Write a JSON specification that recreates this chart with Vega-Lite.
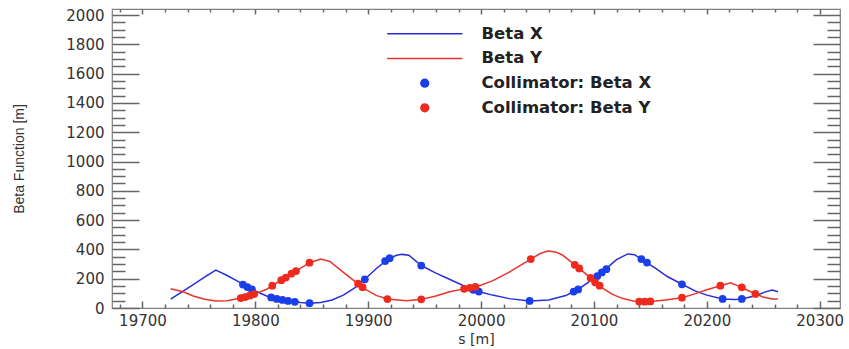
{
  "$schema": "https://vega.github.io/schema/vega-lite/v6.json",
  "width": 728,
  "height": 299,
  "autosize": {"type": "none"},
  "padding": {"left": 112, "top": 9, "right": 9, "bottom": 41},
  "background": "white",
  "config": {
    "view": {"stroke": "#808080", "strokeWidth": 1.2},
    "axis": {
      "grid": false,
      "domain": false,
      "labelFont": "DejaVu Sans",
      "labelFontSize": 15,
      "labelColor": "#333333",
      "labelFlush": false,
      "labelOverlap": false,
      "format": "d"
    }
  },
  "datasets": {
    "curves": [
      {"s": 19725, "beta": 61, "series": "Beta X"},
      {"s": 19735, "beta": 110, "series": "Beta X"},
      {"s": 19745, "beta": 160, "series": "Beta X"},
      {"s": 19755, "beta": 210, "series": "Beta X"},
      {"s": 19765, "beta": 259, "series": "Beta X"},
      {"s": 19775, "beta": 222, "series": "Beta X"},
      {"s": 19785, "beta": 180, "series": "Beta X"},
      {"s": 19790, "beta": 157, "series": "Beta X"},
      {"s": 19795, "beta": 136, "series": "Beta X"},
      {"s": 19800, "beta": 116, "series": "Beta X"},
      {"s": 19810, "beta": 82, "series": "Beta X"},
      {"s": 19820, "beta": 60, "series": "Beta X"},
      {"s": 19830, "beta": 47, "series": "Beta X"},
      {"s": 19840, "beta": 37, "series": "Beta X"},
      {"s": 19848, "beta": 33, "series": "Beta X"},
      {"s": 19858, "beta": 38, "series": "Beta X"},
      {"s": 19868, "beta": 55, "series": "Beta X"},
      {"s": 19878, "beta": 88, "series": "Beta X"},
      {"s": 19888, "beta": 138, "series": "Beta X"},
      {"s": 19897, "beta": 196, "series": "Beta X"},
      {"s": 19907, "beta": 268, "series": "Beta X"},
      {"s": 19917, "beta": 330, "series": "Beta X"},
      {"s": 19925, "beta": 360, "series": "Beta X"},
      {"s": 19930, "beta": 366, "series": "Beta X"},
      {"s": 19936, "beta": 360, "series": "Beta X"},
      {"s": 19947, "beta": 290, "series": "Beta X"},
      {"s": 19960, "beta": 238, "series": "Beta X"},
      {"s": 19972, "beta": 196, "series": "Beta X"},
      {"s": 19985, "beta": 150, "series": "Beta X"},
      {"s": 19996, "beta": 116, "series": "Beta X"},
      {"s": 20010, "beta": 88, "series": "Beta X"},
      {"s": 20025, "beta": 64, "series": "Beta X"},
      {"s": 20043, "beta": 48, "series": "Beta X"},
      {"s": 20060, "beta": 55, "series": "Beta X"},
      {"s": 20075, "beta": 85, "series": "Beta X"},
      {"s": 20085, "beta": 123, "series": "Beta X"},
      {"s": 20095, "beta": 175, "series": "Beta X"},
      {"s": 20108, "beta": 250, "series": "Beta X"},
      {"s": 20120, "beta": 330, "series": "Beta X"},
      {"s": 20130, "beta": 369, "series": "Beta X"},
      {"s": 20136, "beta": 364, "series": "Beta X"},
      {"s": 20145, "beta": 318, "series": "Beta X"},
      {"s": 20155, "beta": 268, "series": "Beta X"},
      {"s": 20165, "beta": 215, "series": "Beta X"},
      {"s": 20178, "beta": 162, "series": "Beta X"},
      {"s": 20190, "beta": 115, "series": "Beta X"},
      {"s": 20200, "beta": 88, "series": "Beta X"},
      {"s": 20214, "beta": 62, "series": "Beta X"},
      {"s": 20225, "beta": 58, "series": "Beta X"},
      {"s": 20231, "beta": 62, "series": "Beta X"},
      {"s": 20243, "beta": 84, "series": "Beta X"},
      {"s": 20252, "beta": 110, "series": "Beta X"},
      {"s": 20258, "beta": 123, "series": "Beta X"},
      {"s": 20263, "beta": 111, "series": "Beta X"},
      {"s": 19725, "beta": 132, "series": "Beta Y"},
      {"s": 19736, "beta": 111, "series": "Beta Y"},
      {"s": 19745, "beta": 82, "series": "Beta Y"},
      {"s": 19755, "beta": 60, "series": "Beta Y"},
      {"s": 19765, "beta": 48, "series": "Beta Y"},
      {"s": 19775, "beta": 50, "series": "Beta Y"},
      {"s": 19786, "beta": 66, "series": "Beta Y"},
      {"s": 19795, "beta": 84, "series": "Beta Y"},
      {"s": 19801, "beta": 100, "series": "Beta Y"},
      {"s": 19810, "beta": 128, "series": "Beta Y"},
      {"s": 19816, "beta": 157, "series": "Beta Y"},
      {"s": 19823, "beta": 190, "series": "Beta Y"},
      {"s": 19830, "beta": 225, "series": "Beta Y"},
      {"s": 19840, "beta": 270, "series": "Beta Y"},
      {"s": 19848, "beta": 309, "series": "Beta Y"},
      {"s": 19858, "beta": 334, "series": "Beta Y"},
      {"s": 19866, "beta": 318, "series": "Beta Y"},
      {"s": 19875, "beta": 262, "series": "Beta Y"},
      {"s": 19885, "beta": 200, "series": "Beta Y"},
      {"s": 19892, "beta": 160, "series": "Beta Y"},
      {"s": 19898, "beta": 125, "series": "Beta Y"},
      {"s": 19907, "beta": 86, "series": "Beta Y"},
      {"s": 19917, "beta": 61, "series": "Beta Y"},
      {"s": 19934, "beta": 50, "series": "Beta Y"},
      {"s": 19947, "beta": 59, "series": "Beta Y"},
      {"s": 19960, "beta": 82, "series": "Beta Y"},
      {"s": 19972, "beta": 111, "series": "Beta Y"},
      {"s": 19987, "beta": 134, "series": "Beta Y"},
      {"s": 19998, "beta": 150, "series": "Beta Y"},
      {"s": 20010, "beta": 185, "series": "Beta Y"},
      {"s": 20025, "beta": 245, "series": "Beta Y"},
      {"s": 20044, "beta": 334, "series": "Beta Y"},
      {"s": 20052, "beta": 370, "series": "Beta Y"},
      {"s": 20059, "beta": 389, "series": "Beta Y"},
      {"s": 20066, "beta": 383, "series": "Beta Y"},
      {"s": 20072, "beta": 362, "series": "Beta Y"},
      {"s": 20085, "beta": 282, "series": "Beta Y"},
      {"s": 20092, "beta": 238, "series": "Beta Y"},
      {"s": 20099, "beta": 191, "series": "Beta Y"},
      {"s": 20108, "beta": 134, "series": "Beta Y"},
      {"s": 20116, "beta": 95, "series": "Beta Y"},
      {"s": 20125, "beta": 66, "series": "Beta Y"},
      {"s": 20135, "beta": 48, "series": "Beta Y"},
      {"s": 20143, "beta": 43, "series": "Beta Y"},
      {"s": 20155, "beta": 47, "series": "Beta Y"},
      {"s": 20165, "beta": 57, "series": "Beta Y"},
      {"s": 20178, "beta": 70, "series": "Beta Y"},
      {"s": 20190, "beta": 98, "series": "Beta Y"},
      {"s": 20200, "beta": 125, "series": "Beta Y"},
      {"s": 20212, "beta": 152, "series": "Beta Y"},
      {"s": 20221, "beta": 172, "series": "Beta Y"},
      {"s": 20231, "beta": 141, "series": "Beta Y"},
      {"s": 20237, "beta": 118, "series": "Beta Y"},
      {"s": 20243, "beta": 96, "series": "Beta Y"},
      {"s": 20250, "beta": 75, "series": "Beta Y"},
      {"s": 20258, "beta": 61, "series": "Beta Y"},
      {"s": 20263, "beta": 61, "series": "Beta Y"}
    ],
    "collimators": [
      {"s": 19789, "beta": 160, "series": "Collimator: Beta X"},
      {"s": 19793, "beta": 143, "series": "Collimator: Beta X"},
      {"s": 19797, "beta": 127, "series": "Collimator: Beta X"},
      {"s": 19814, "beta": 72, "series": "Collimator: Beta X"},
      {"s": 19819, "beta": 62, "series": "Collimator: Beta X"},
      {"s": 19824, "beta": 55, "series": "Collimator: Beta X"},
      {"s": 19829, "beta": 48, "series": "Collimator: Beta X"},
      {"s": 19835, "beta": 42, "series": "Collimator: Beta X"},
      {"s": 19848, "beta": 33, "series": "Collimator: Beta X"},
      {"s": 19897, "beta": 196, "series": "Collimator: Beta X"},
      {"s": 19915, "beta": 320, "series": "Collimator: Beta X"},
      {"s": 19919, "beta": 340, "series": "Collimator: Beta X"},
      {"s": 19947, "beta": 290, "series": "Collimator: Beta X"},
      {"s": 19993, "beta": 124, "series": "Collimator: Beta X"},
      {"s": 19998, "beta": 112, "series": "Collimator: Beta X"},
      {"s": 20043, "beta": 48, "series": "Collimator: Beta X"},
      {"s": 20082, "beta": 112, "series": "Collimator: Beta X"},
      {"s": 20086, "beta": 127, "series": "Collimator: Beta X"},
      {"s": 20103, "beta": 218, "series": "Collimator: Beta X"},
      {"s": 20107, "beta": 243, "series": "Collimator: Beta X"},
      {"s": 20111, "beta": 265, "series": "Collimator: Beta X"},
      {"s": 20142, "beta": 334, "series": "Collimator: Beta X"},
      {"s": 20147, "beta": 310, "series": "Collimator: Beta X"},
      {"s": 20178, "beta": 162, "series": "Collimator: Beta X"},
      {"s": 20214, "beta": 62, "series": "Collimator: Beta X"},
      {"s": 20231, "beta": 62, "series": "Collimator: Beta X"},
      {"s": 19787, "beta": 68, "series": "Collimator: Beta Y"},
      {"s": 19791, "beta": 75, "series": "Collimator: Beta Y"},
      {"s": 19795, "beta": 84, "series": "Collimator: Beta Y"},
      {"s": 19799, "beta": 95, "series": "Collimator: Beta Y"},
      {"s": 19815, "beta": 152, "series": "Collimator: Beta Y"},
      {"s": 19823, "beta": 190, "series": "Collimator: Beta Y"},
      {"s": 19827, "beta": 208, "series": "Collimator: Beta Y"},
      {"s": 19832, "beta": 235, "series": "Collimator: Beta Y"},
      {"s": 19836, "beta": 252, "series": "Collimator: Beta Y"},
      {"s": 19848, "beta": 309, "series": "Collimator: Beta Y"},
      {"s": 19891, "beta": 166, "series": "Collimator: Beta Y"},
      {"s": 19895, "beta": 142, "series": "Collimator: Beta Y"},
      {"s": 19917, "beta": 61, "series": "Collimator: Beta Y"},
      {"s": 19947, "beta": 59, "series": "Collimator: Beta Y"},
      {"s": 19985, "beta": 131, "series": "Collimator: Beta Y"},
      {"s": 19990, "beta": 138, "series": "Collimator: Beta Y"},
      {"s": 19995, "beta": 145, "series": "Collimator: Beta Y"},
      {"s": 20044, "beta": 334, "series": "Collimator: Beta Y"},
      {"s": 20083, "beta": 295, "series": "Collimator: Beta Y"},
      {"s": 20087, "beta": 270, "series": "Collimator: Beta Y"},
      {"s": 20097, "beta": 205, "series": "Collimator: Beta Y"},
      {"s": 20101, "beta": 175, "series": "Collimator: Beta Y"},
      {"s": 20105, "beta": 152, "series": "Collimator: Beta Y"},
      {"s": 20140, "beta": 44, "series": "Collimator: Beta Y"},
      {"s": 20145, "beta": 43, "series": "Collimator: Beta Y"},
      {"s": 20150, "beta": 45, "series": "Collimator: Beta Y"},
      {"s": 20178, "beta": 70, "series": "Collimator: Beta Y"},
      {"s": 20212, "beta": 152, "series": "Collimator: Beta Y"},
      {"s": 20231, "beta": 141, "series": "Collimator: Beta Y"},
      {"s": 20243, "beta": 96, "series": "Collimator: Beta Y"}
    ]
  },
  "layer": [
    {
      "data": {"name": "curves"},
      "mark": {"type": "line", "strokeWidth": 1.5},
      "encoding": {
        "x": {
          "field": "s", "type": "quantitative",
          "scale": {"domain": [19673, 20318], "nice": false, "zero": false},
          "axis": {
            "orient": "bottom", "offset": -7,
            "values": [19700, 19800, 19900, 20000, 20100, 20200, 20300],
            "ticks": true, "tickSize": 7, "tickColor": "#666666", "tickWidth": 1.5, "tickOpacity": 1,
            "labelPadding": 5,
            "title": "s [m]", "titleFont": "DejaVu Sans", "titleFontSize": 14,
            "titleFontWeight": "normal", "titleColor": "#333333", "titlePadding": 4
          }
        },
        "y": {
          "field": "beta", "type": "quantitative",
          "scale": {"domain": [0, 2041], "nice": false, "zero": false},
          "axis": {
            "orient": "left", "offset": -27,
            "values": [0, 200, 400, 600, 800, 1000, 1200, 1400, 1600, 1800, 2000],
            "ticks": true, "tickSize": 27, "tickColor": "#666666", "tickWidth": 1.5, "tickOpacity": 1,
            "labelPadding": 8,
            "title": "Beta Function [m]", "titleFont": "Liberation Sans", "titleFontSize": 14,
            "titleFontWeight": "normal", "titleColor": "#333333", "titlePadding": 39
          }
        },
        "color": {
          "field": "series", "type": "nominal",
          "scale": {
            "domain": ["Beta X", "Beta Y", "Collimator: Beta X", "Collimator: Beta Y"],
            "range": ["#2a2ed8", "#e8342c", "#1a3fe8", "#ee2a1e"]
          },
          "legend": {
            "title": null, "orient": "none", "legendX": 304.5, "legendY": 16.5,
            "padding": 0, "offset": 0, "rowPadding": 7.7,
            "symbolSize": 60, "symbolOffset": 0,
            "labelFont": "DejaVu Sans", "labelFontWeight": "bold", "labelFontSize": 16.5,
            "labelColor": "#222222", "labelOffset": 48.5, "labelLimit": 400,
            "symbolStrokeWidth": 1.5,
            "encode": {
              "symbols": {
                "update": {
                  "stroke": {"scale": "color", "field": "value"},
                  "fill": {"scale": "color", "field": "value"},
                  "opacity": {"value": 1}
                }
              }
            }
          }
        }
      }
    },
    {
      "data": {"name": "collimators"},
      "mark": {"type": "point", "filled": true, "opacity": 1, "strokeWidth": 0, "size": 60},
      "encoding": {
        "x": {
          "field": "s", "type": "quantitative",
          "axis": {
            "orient": "bottom", "offset": -4,
            "values": [19680, 19720, 19740, 19760, 19780, 19820, 19840, 19860, 19880, 19920, 19940, 19960, 19980, 20020, 20040, 20060, 20080, 20120, 20140, 20160, 20180, 20220, 20240, 20260, 20280],
            "ticks": true, "tickSize": 4, "tickColor": "#666666", "tickWidth": 1.5, "tickOpacity": 1,
            "labels": false, "title": null
          }
        },
        "y": {
          "field": "beta", "type": "quantitative",
          "axis": {
            "orient": "left", "offset": -13,
            "values": [50, 100, 150, 250, 300, 350, 450, 500, 550, 650, 700, 750, 850, 900, 950, 1050, 1100, 1150, 1250, 1300, 1350, 1450, 1500, 1550, 1650, 1700, 1750, 1850, 1900, 1950],
            "ticks": true, "tickSize": 13, "tickColor": "#666666", "tickWidth": 1.5, "tickOpacity": 1,
            "labels": false, "title": null
          }
        },
        "color": {
          "field": "series", "type": "nominal",
          "scale": {
            "domain": ["Beta X", "Beta Y", "Collimator: Beta X", "Collimator: Beta Y"],
            "range": ["#2a2ed8", "#e8342c", "#1a3fe8", "#ee2a1e"]
          }
        },
        "shape": {
          "field": "series", "type": "nominal",
          "scale": {
            "domain": ["Beta X", "Beta Y", "Collimator: Beta X", "Collimator: Beta Y"],
            "range": ["M-9.7,0H9.7", "M-9.7,0H9.7", "circle", "circle"]
          }
        }
      }
    },
    {
      "data": {"name": "curves"},
      "mark": {"type": "line", "opacity": 0},
      "encoding": {
        "x": {
          "field": "s", "type": "quantitative",
          "axis": {
            "orient": "top", "offset": -5,
            "values": [19700, 19800, 19900, 20000, 20100, 20200, 20300],
            "ticks": true, "tickSize": 5, "tickColor": "#666666", "tickWidth": 1.5, "tickOpacity": 1,
            "labels": false, "title": null
          }
        },
        "y": {
          "field": "beta", "type": "quantitative",
          "axis": {
            "orient": "right", "offset": -27,
            "values": [0, 200, 400, 600, 800, 1000, 1200, 1400, 1600, 1800, 2000],
            "ticks": true, "tickSize": 27, "tickColor": "#666666", "tickWidth": 1.5, "tickOpacity": 1,
            "labels": false, "title": null
          }
        }
      }
    },
    {
      "data": {"name": "curves"},
      "mark": {"type": "line", "opacity": 0},
      "encoding": {
        "x": {
          "field": "s", "type": "quantitative",
          "axis": {
            "orient": "top", "offset": -3,
            "values": [19680, 19720, 19740, 19760, 19780, 19820, 19840, 19860, 19880, 19920, 19940, 19960, 19980, 20020, 20040, 20060, 20080, 20120, 20140, 20160, 20180, 20220, 20240, 20260, 20280],
            "ticks": true, "tickSize": 3, "tickColor": "#666666", "tickWidth": 1.5, "tickOpacity": 1,
            "labels": false, "title": null
          }
        },
        "y": {
          "field": "beta", "type": "quantitative",
          "axis": {
            "orient": "right", "offset": -13,
            "values": [50, 100, 150, 250, 300, 350, 450, 500, 550, 650, 700, 750, 850, 900, 950, 1050, 1100, 1150, 1250, 1300, 1350, 1450, 1500, 1550, 1650, 1700, 1750, 1850, 1900, 1950],
            "ticks": true, "tickSize": 13, "tickColor": "#666666", "tickWidth": 1.5, "tickOpacity": 1,
            "labels": false, "title": null
          }
        }
      }
    }
  ],
  "resolve": {"axis": {"x": "independent", "y": "independent"}}
}
